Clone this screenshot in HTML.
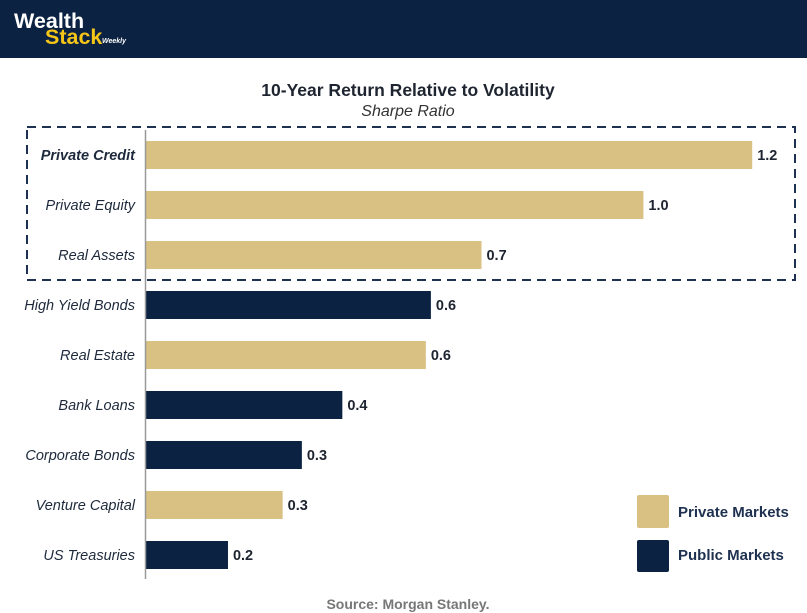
<!DOCTYPE html>
<html><head><meta charset="utf-8"><style>
html,body{margin:0;padding:0;background:#fff;}
svg{display:block;font-family:"Liberation Sans",sans-serif;}
</style></head><body>
<svg id="c" width="807" height="613" viewBox="0 0 807 613">
<rect x="0" y="0" width="807" height="58" fill="#0b2242"/>
<text x="14" y="28" font-size="21.5" font-weight="bold" fill="#fff">Wealth</text>
<text x="45" y="44" font-size="21.5" font-weight="bold" fill="#f5c518">Stack</text>
<text x="102" y="43" font-size="7" font-weight="bold" font-style="italic" fill="#fff">Weekly</text>
<text x="408" y="96" font-size="17.5" font-weight="bold" fill="#1e2530" text-anchor="middle">10-Year Return Relative to Volatility</text>
<text x="408" y="116" font-size="16" font-style="italic" fill="#333" text-anchor="middle">Sharpe Ratio</text>
<rect x="27" y="127" width="768" height="153" fill="none" stroke="#1e3150" stroke-width="2" stroke-dasharray="9,6"/>
<g id="bars"></g>
<line x1="145.5" y1="130" x2="145.5" y2="579" stroke="#999" stroke-width="1.5"/>
<rect x="637" y="495" width="32" height="33" rx="2" fill="#d9c083"/>
<text x="678" y="517" font-size="15" font-weight="bold" fill="#1e3150">Private Markets</text>
<rect x="637" y="540" width="32" height="32" rx="2" fill="#0b2242"/>
<text x="678" y="560" font-size="15" font-weight="bold" fill="#1e3150">Public Markets</text>
<text x="408" y="609" font-size="14" font-weight="bold" fill="#777" text-anchor="middle">Source: Morgan Stanley.</text>
</svg>
<script>
const categories=["Private Credit","Private Equity","Real Assets","High Yield Bonds","Real Estate","Bank Loans","Corporate Bonds","Venture Capital","US Treasuries"];
const values=[1.2,0.985,0.665,0.565,0.555,0.39,0.31,0.272,0.164];
const valueLabels=["1.2","1.0","0.7","0.6","0.6","0.4","0.3","0.3","0.2"];
const isPrivate=[true,true,true,false,true,false,false,true,false];
const x0=145,pxPer=506,yStart=155,step=50,bh=28;
const xs=v=>x0+v*pxPer, ys=i=>yStart+i*step;
const g=document.getElementById('bars'),NS="http://www.w3.org/2000/svg";
categories.forEach((c,i)=>{
 const r=document.createElementNS(NS,'rect');
 r.setAttribute('x',x0);r.setAttribute('y',ys(i)-bh/2);
 r.setAttribute('width',xs(values[i])-x0);r.setAttribute('height',bh);
 r.setAttribute('fill',isPrivate[i]?'#d9c083':'#0b2242');
 
 
 g.appendChild(r);
 const t=document.createElementNS(NS,'text');
 t.setAttribute('x',135);t.setAttribute('y',ys(i)+5);
 t.setAttribute('text-anchor','end');t.setAttribute('font-size','14.5');
 t.setAttribute('font-style','italic');t.setAttribute('fill','#1e2a3c');
 if(i===0)t.setAttribute('font-weight','bold');
 t.textContent=c;
 
 
 g.appendChild(t);
 const v=document.createElementNS(NS,'text');
 v.setAttribute('x',xs(values[i])+5);v.setAttribute('y',ys(i)+5);
 v.setAttribute('font-size','14.5');v.setAttribute('font-weight','bold');v.setAttribute('fill','#1e2530');
 v.textContent=valueLabels[i];
 
 
 g.appendChild(v);
});
</script>
</body></html>
